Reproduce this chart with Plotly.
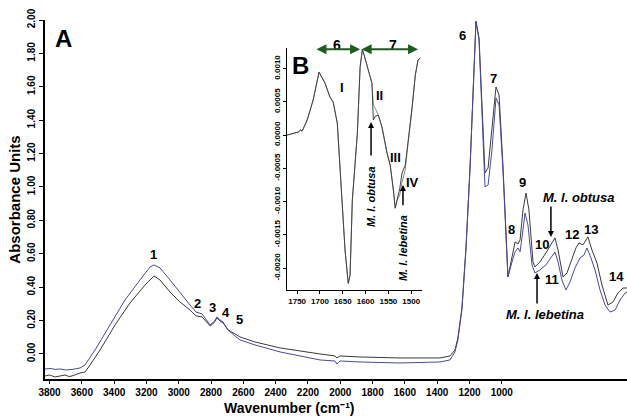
import plotly.graph_objects as go

# ---------------- main spectrum (A) ----------------
wn_lebetina = [3828, 3790, 3766, 3735, 3700, 3661, 3611, 3580, 3518, 3425, 3333, 3240, 3178, 3153, 3116,
               3054, 2992, 2930, 2893, 2856, 2806, 2782, 2763, 2745, 2726, 2695, 2652, 2621, 2528, 2373,
               2126, 2033, 2021, 2002, 1879, 1631, 1383, 1321, 1290, 1272, 1247, 1222, 1197, 1179, 1160,
               1141, 1123, 1104, 1085, 1061, 1036, 1017, 993, 962, 937, 918, 900, 887, 869, 856, 838,
               813, 795, 764, 727, 696, 671, 652, 628, 603, 578, 547, 516, 491, 473, 448, 423, 392,
               361, 330, 299, 268, 237, 225]
abs_lebetina = [-0.090, -0.087, -0.093, -0.090, -0.096, -0.093, -0.084, -0.066, 0.024, 0.174, 0.323, 0.443,
                0.521, 0.533, 0.515, 0.443, 0.365, 0.293, 0.251, 0.240, 0.174, 0.192, 0.222, 0.204, 0.192,
                0.144, 0.108, 0.084, 0.054, 0.012, -0.036, -0.042, -0.060, -0.042, -0.048, -0.054, -0.048,
                -0.036, 0.012, 0.084, 0.263, 0.623, 1.102, 1.581, 1.988, 1.880, 1.401, 1.000, 1.012, 1.222,
                1.533, 1.491, 1.102, 0.461, 0.551, 0.611, 0.635, 0.611, 0.743, 0.844, 0.772, 0.533, 0.485,
                0.503, 0.533, 0.575, 0.611, 0.551, 0.443, 0.383, 0.431, 0.515, 0.575, 0.593, 0.635, 0.575,
                0.503, 0.383, 0.293, 0.251, 0.263, 0.323, 0.365, 0.371]

wn_obtusa = [3828, 3800, 3766, 3735, 3704, 3680, 3661, 3611, 3580, 3549, 3487, 3394, 3302, 3209, 3153,
             3116, 3054, 2992, 2930, 2893, 2856, 2806, 2782, 2763, 2745, 2726, 2695, 2652, 2621, 2528,
             2373, 2126, 2033, 2021, 2002, 1879, 1631, 1383, 1321, 1290, 1272, 1247, 1222, 1197, 1179,
             1160, 1141, 1123, 1104, 1085, 1061, 1036, 1017, 993, 962, 937, 918, 900, 887, 869, 850,
             832, 807, 795, 764, 727, 696, 671, 652, 621, 597, 566, 541, 522, 498, 467, 442, 411, 380,
             343, 312, 281, 250, 225]
abs_obtusa = [-0.132, -0.126, -0.138, -0.132, -0.126, -0.135, -0.132, -0.114, -0.108, -0.066, 0.024, 0.174,
              0.305, 0.413, 0.467, 0.443, 0.371, 0.311, 0.263, 0.228, 0.222, 0.168, 0.186, 0.216, 0.198,
              0.186, 0.144, 0.120, 0.102, 0.072, 0.036, 0.000, -0.012, -0.024, -0.012, -0.018, -0.024,
              -0.024, -0.012, 0.024, 0.096, 0.275, 0.635, 1.114, 1.593, 1.994, 1.892, 1.461, 1.084, 1.114,
              1.341, 1.599, 1.551, 1.132, 0.461, 0.587, 0.671, 0.659, 0.683, 0.862, 0.964, 0.862, 0.551,
              0.521, 0.551, 0.605, 0.659, 0.695, 0.623, 0.461, 0.485, 0.575, 0.635, 0.665, 0.653, 0.701,
              0.623, 0.545, 0.413, 0.293, 0.311, 0.365, 0.395, 0.395]

x_ticks = [3800, 3600, 3400, 3200, 3000, 2800, 2600, 2400, 2200, 2000, 1800, 1600, 1400, 1200, 1000]
y_ticks = [0.0, 0.2, 0.4, 0.6, 0.8, 1.0, 1.2, 1.4, 1.6, 1.8, 2.0]
y_ticklabels = ["0.00", "0.20", "0.40", "0.60", "0.80", "1.00", "1.20", "1.40", "1.60", "1.80", "2.00"]

peak_labels = ["1", "2", "3", "4", "5", "6", "7", "8", "9", "10", "11", "12", "13", "14"]
peak_label_wn = [3159, 2881, 2794, 2707, 2627, 1241, 1049, 937, 869, 751, 689, 566, 448, 290]
peak_label_abs = [0.593, 0.305, 0.281, 0.251, 0.204, 1.91, 1.647, 0.743, 1.024, 0.653, 0.443, 0.713, 0.743, 0.461]

# ---------------- second-derivative inset (B) ----------------
inset_wn = [1772, 1759, 1748, 1743, 1739, 1728, 1715, 1702, 1689, 1678, 1671, 1662, 1651, 1645, 1638,
            1634, 1629, 1618, 1612, 1607, 1603, 1596, 1586, 1583, 1579, 1572, 1564, 1553, 1546, 1539,
            1535, 1531, 1525, 1520, 1513, 1509, 1502, 1498, 1491, 1485, 1480]
inset_obtusa = [0.0, 0.00003, 0.000045, 0.000075, 0.00006, 0.000226, 0.000526, 0.000947, 0.000782,
                0.000571, 0.000496, 0.00018, -0.000977, -0.00173, -0.00223, -0.00211, -0.000977, 0.00003,
                0.00102, 0.00129, 0.0012, 0.00102, 0.00078, 0.000226, 0.00028, 0.0003, 0.00012, -0.00027,
                -0.00045, -0.00083, -0.0011, -0.00098, -0.00080, -0.00057, -0.00045, -0.000226, 0.00015,
                0.00042, 0.0009, 0.00113, 0.00116]
inset_lebetina = [0.0, 0.00003, 0.000045, 0.000075, 0.00006, 0.000226, 0.000526, 0.000947, 0.000782,
                  0.000571, 0.000496, 0.00018, -0.000977, -0.00173, -0.00223, -0.00211, -0.000977, 0.00003,
                  0.00102, 0.00129, 0.0012, 0.00102, 0.00078, 0.00045, 0.000406, 0.0003, 0.00012, -0.00027,
                  -0.00045, -0.00083, -0.0011, -0.00098, -0.00090, -0.00071, -0.00052, -0.00026, 0.00013,
                  0.00040, 0.0009, 0.00113, 0.00116]
inset_xticks = [1750, 1700, 1650, 1600, 1550, 1500]
inset_yticks = [0.001, 0.0005, 0.0, -0.0005, -0.001, -0.0015, -0.002]
inset_yticklabels = ["0.0010", "0.0005", "0.0000", "-0.0005", "-0.0010", "-0.0015", "-0.0020"]
inset_roman = ["I", "II", "III", "IV"]
inset_roman_wn = [1651, 1570, 1535, 1498]
inset_roman_val = [0.00071, 0.0006, -0.00033, -0.00071]
band_labels = ["6", "7"]
band_label_wn = [1662, 1539]

FONT = "Liberation Sans, Arial, sans-serif"
BLUE = "#4a4a9c"
DARK = "#3a3a3a"
GREEN = "#1f5a1f"

fig = go.Figure()
fig.add_trace(go.Scatter(x=wn_obtusa, y=abs_obtusa, mode="lines", line=dict(color=DARK, width=1),
                         xaxis="x", yaxis="y", showlegend=False, hoverinfo="skip"))
fig.add_trace(go.Scatter(x=wn_lebetina, y=abs_lebetina, mode="lines", line=dict(color=BLUE, width=1),
                         xaxis="x", yaxis="y", showlegend=False, hoverinfo="skip"))
fig.add_trace(go.Scatter(x=inset_wn, y=inset_lebetina, mode="lines", line=dict(color="#8a8a8a", width=1),
                         xaxis="x2", yaxis="y2", showlegend=False, hoverinfo="skip"))
fig.add_trace(go.Scatter(x=inset_wn, y=inset_obtusa, mode="lines", line=dict(color="#444444", width=1),
                         xaxis="x2", yaxis="y2", showlegend=False, hoverinfo="skip"))

ann = []
for t, x, y in zip(peak_labels, peak_label_wn, peak_label_abs):
    ann.append(dict(x=x, y=y, xref="x", yref="y", text=t, showarrow=False,
                    font=dict(family=FONT, size=13, color="black", weight="bold")))
for t, x, y in zip(inset_roman, inset_roman_wn, inset_roman_val):
    ann.append(dict(x=x, y=y, xref="x2", yref="y2", text=t, showarrow=False,
                    font=dict(family=FONT, size=13, color="black", weight="bold")))
for t, x in zip(band_labels, band_label_wn):
    ann.append(dict(x=x, y=0.958, xref="x2", yref="paper", text=t, showarrow=False,
                    font=dict(family=FONT, size=14, color="black", weight="bold")))
# panel letters
ann.append(dict(x=3716, y=1.892, xref="x", yref="y", text="A", showarrow=False,
                font=dict(family=FONT, size=24, color="black", weight="bold")))
ann.append(dict(x=1743, y=0.00105, xref="x2", yref="y2", text="B", showarrow=False,
                font=dict(family=FONT, size=24, color="black", weight="bold")))
# green band arrows
ann.append(dict(x=1612, y=0.00129, ax=1711, ay=0.00129, xref="x2", yref="y2", axref="x2", ayref="y2",
                text="", showarrow=True, arrowside="end+start", arrowhead=2, arrowsize=1, arrowwidth=2,
                arrowcolor=GREEN))
ann.append(dict(x=1485, y=0.00129, ax=1612, ay=0.00129, xref="x2", yref="y2", axref="x2", ayref="y2",
                text="", showarrow=True, arrowside="end+start", arrowhead=2, arrowsize=1, arrowwidth=2,
                arrowcolor=GREEN))
# inset arrows + rotated species names
ann.append(dict(x=1588, y=0.000195, ax=1588, ay=-0.00033, xref="x2", yref="y2", axref="x2", ayref="y2",
                text="", showarrow=True, arrowhead=2, arrowsize=0.8, arrowwidth=1.5, arrowcolor="black"))
ann.append(dict(x=1518, y=-0.00075, ax=1518, ay=-0.00108, xref="x2", yref="y2", axref="x2", ayref="y2",
                text="", showarrow=True, arrowhead=2, arrowsize=0.8, arrowwidth=1.5, arrowcolor="black"))
ann.append(dict(x=1588, y=-0.00093, xref="x2", yref="y2", text="<i>M. l. obtusa</i>", showarrow=False,
                textangle=-90, font=dict(family=FONT, size=11, color="black", weight="bold")))
ann.append(dict(x=1518, y=-0.00170, xref="x2", yref="y2", text="<i>M. l. lebetina</i>", showarrow=False,
                textangle=-90, font=dict(family=FONT, size=11, color="black", weight="bold")))
# main arrows + species names
ann.append(dict(x=696, y=0.70, ax=696, ay=0.892, xref="x", yref="y", axref="x", ayref="y",
                text="", showarrow=True, arrowhead=2, arrowsize=0.8, arrowwidth=1.5, arrowcolor="black"))
ann.append(dict(x=782, y=0.485, ax=782, ay=0.293, xref="x", yref="y", axref="x", ayref="y",
                text="", showarrow=True, arrowhead=2, arrowsize=0.8, arrowwidth=1.5, arrowcolor="black"))
ann.append(dict(x=522, y=0.94, xref="x", yref="y", text="<i>M. l. obtusa</i>", showarrow=False,
                font=dict(family=FONT, size=13, color="black", weight="bold")))
ann.append(dict(x=733, y=0.234, xref="x", yref="y", text="<i>M. l. lebetina</i>", showarrow=False,
                font=dict(family=FONT, size=13, color="black", weight="bold")))
# x-axis title placed just under the tick labels
ann.append(dict(x=0.42, y=-0.081, xref="paper", yref="paper", yanchor="middle", borderpad=0,
                text="Wavenumber (cm⁻¹)", showarrow=False,
                font=dict(family=FONT, size=14, color="black", weight="bold")))

tickfont = dict(family=FONT, size=10, color="black", weight="bold")
fig.update_layout(
    width=627, height=419,
    margin=dict(l=45, r=0, t=20, b=40),
    paper_bgcolor="white", plot_bgcolor="white",
    showlegend=False,
    annotations=ann,
    xaxis=dict(range=[3828, 225], tickvals=x_ticks, ticks="outside", ticklen=3, tickcolor="black",
               showline=True, linecolor="black", linewidth=1.5, showgrid=False, zeroline=False,
               tickfont=tickfont),
    yaxis=dict(range=[-0.15, 2.0], tickvals=y_ticks, ticktext=y_ticklabels, tickangle=-90,
               ticks="outside", ticklen=4, tickcolor="black",
               showline=True, linecolor="black", linewidth=1.5, showgrid=False, zeroline=False,
               tickfont=tickfont,
               title=dict(text="Absorbance Units", standoff=2,
                          font=dict(family=FONT, size=15, color="black", weight="bold"))),
    xaxis2=dict(domain=[0.416, 0.648], anchor="y2", range=[1772, 1476], tickvals=inset_xticks,
                ticks="outside", ticklen=3, tickcolor="black", showline=True, linecolor="black",
                linewidth=1, showgrid=False, zeroline=False,
                tickfont=dict(family=FONT, size=8, color="black", weight="bold")),
    yaxis2=dict(domain=[0.248, 0.922], anchor="x2", range=[-0.00233, 0.00131], tickvals=inset_yticks,
                ticktext=inset_yticklabels, tickangle=-90, ticks="outside", ticklen=3, tickcolor="black",
                showline=True, linecolor="black", linewidth=1, showgrid=False, zeroline=False,
                tickfont=dict(family=FONT, size=8, color="black", weight="bold")),
)

fig.write_html("out.html", config={"displayModeBar": False},
               post_script="document.body.style.margin='0';document.body.style.padding='0';")
